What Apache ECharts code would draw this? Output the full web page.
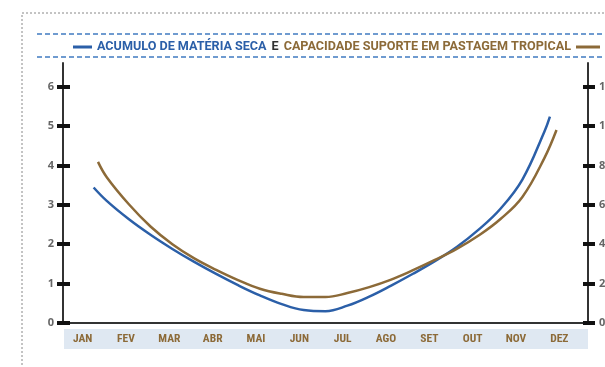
<!DOCTYPE html>
<html>
<head>
<meta charset="utf-8">
<script src="https://cdn.jsdelivr.net/npm/echarts@6/dist/echarts.min.js"></script>
<style>
  html, body { margin: 0; padding: 0; background: #fff; overflow: hidden; }
  #chart { width: 605px; height: 367px; }
</style>
</head>
<body>
<div id="chart"></div>
<script>
// Months shown under the plot
const months = ['JAN', 'FEV', 'MAR', 'ABR', 'MAI', 'JUN', 'JUL', 'AGO', 'SET', 'OUT', 'NOV', 'DEZ'];

// Left scale ticks and right scale tick labels
const leftTicks = [0, 1, 2, 3, 4, 5, 6];
const rightTickLabels = ['0', '2', '4', '6', '8', '12', '14'];

// Curves: [month position (0 = start of JAN, 12 = end of DEZ), value]
const materiaSeca = [
  [0.70, 3.44], [1.0, 3.10], [1.5, 2.64], [2.0, 2.24], [2.5, 1.88], [3.0, 1.55],
  [3.5, 1.245], [4.0, 0.96], [4.5, 0.70], [5.0, 0.48], [5.5, 0.33], [6.0, 0.30],
  [6.5, 0.44], [7.0, 0.67], [7.5, 0.95], [8.0, 1.25], [8.5, 1.57], [9.0, 1.93],
  [9.5, 2.37], [10.0, 2.90], [10.5, 3.64], [11.0, 4.85], [11.13, 5.24]
];
const capacidadeSuporte = [
  [0.80, 4.09], [1.0, 3.70], [1.5, 3.02], [2.0, 2.45], [2.5, 2.00], [3.0, 1.64],
  [3.5, 1.35], [4.0, 1.09], [4.5, 0.87], [5.0, 0.74], [5.5, 0.66], [6.0, 0.66],
  [6.5, 0.76], [7.0, 0.91], [7.5, 1.10], [8.0, 1.34], [8.5, 1.60], [9.0, 1.88],
  [9.5, 2.22], [10.0, 2.64], [10.5, 3.20], [11.0, 4.18], [11.28, 4.90]
];

const BLUE = '#2b5fa8';
const BROWN = '#8c6a38';
const AXIS = '#333';
const condensed = '"Liberation Sans Narrow", "Roboto Condensed", "Liberation Sans", sans-serif';
const captionFont = 'Roboto, "Liberation Sans", sans-serif';

const chart = echarts.init(document.getElementById('chart'), null, { renderer: 'canvas' });

const yScale = { type: 'value', min: 0, max: 6.6, gridIndex: 0 };
const tickStyle = { show: true, customValues: leftTicks, lineStyle: { color: '#111', width: 4 } };
const captionText = { fontSize: 12.6, fontWeight: 'bold', fontFamily: captionFont };

chart.setOption({
  backgroundColor: '#fff',
  animation: false,
  title: {
    left: 68,
    top: 33,
    text: '{bl|}{a|ACUMULO DE MATÉRIA SECA} {e|E} {b|CAPACIDADE SUPORTE EM PASTAGEM TROPICAL}{br|}',
    textStyle: {
      rich: {
        bl: { width: 19, height: 3, backgroundColor: BLUE },
        br: { width: 24, height: 3, backgroundColor: BROWN },
        a: Object.assign({ color: BLUE, padding: [0, 0, 0, 5] }, captionText),
        e: Object.assign({ color: '#333' }, captionText),
        b: Object.assign({ color: BROWN, padding: [0, 5, 0, 0] }, captionText)
      }
    }
  },
  graphic: [
    // dotted frame around the figure
    { type: 'rect', shape: { x: 22, y: 13, width: 600, height: 380 },
      style: { fill: 'none', stroke: '#888', lineWidth: 1, lineDash: [2, 2] } },
    // dashed rules above and below the caption
    { type: 'line', shape: { x1: 37, y1: 34, x2: 605, y2: 34 },
      style: { stroke: '#6f9bd0', lineWidth: 2, lineDash: [5, 3] } },
    { type: 'line', shape: { x1: 37, y1: 57, x2: 605, y2: 57 },
      style: { stroke: '#6f9bd0', lineWidth: 2, lineDash: [5, 3] } },
    // shaded band behind the month names
    { type: 'rect', z: -1, shape: { x: 64, y: 329, width: 524, height: 20 },
      style: { fill: '#dfe8f2' } }
  ],
  grid: [
    { left: 63, right: 17, top: 63, bottom: 44, outerBoundsMode: 'none' },
    { left: 61, right: 24, top: 63, bottom: 44, outerBoundsMode: 'none' }
  ],
  xAxis: [
    {
      type: 'value', gridIndex: 0, min: 0, max: 12,
      axisLine: { show: true, lineStyle: { color: AXIS, width: 2 } },
      axisTick: { show: false }, axisLabel: { show: false }, splitLine: { show: false }
    },
    {
      type: 'category', gridIndex: 1, data: months, boundaryGap: true,
      axisLine: { show: false }, axisTick: { show: false }, splitLine: { show: false },
      axisLabel: { color: BROWN, fontSize: 11.5, fontWeight: 'bold', fontFamily: condensed, margin: 10, interval: 0 }
    }
  ],
  yAxis: [
    Object.assign({}, yScale, {
      position: 'left',
      axisLine: { show: true, lineStyle: { color: AXIS, width: 2 } },
      axisTick: Object.assign({}, tickStyle, { inside: false, length: 6 }),
      axisLabel: { customValues: leftTicks, color: '#666', fontSize: 11, fontWeight: 'bold', fontFamily: '"Open Sans", sans-serif', margin: 9 },
      splitLine: { show: false }
    }),
    Object.assign({}, yScale, {
      position: 'left',
      axisLine: { show: false },
      axisTick: Object.assign({}, tickStyle, { inside: true, length: 7 }),
      axisLabel: { show: false }, splitLine: { show: false }
    }),
    Object.assign({}, yScale, {
      position: 'right',
      axisLine: { show: true, lineStyle: { color: AXIS, width: 2 } },
      axisTick: Object.assign({}, tickStyle, { inside: false, length: 7 }),
      axisLabel: {
        customValues: leftTicks, color: '#666', fontSize: 11, fontWeight: 'bold',
        fontFamily: '"Open Sans", sans-serif', margin: 11,
        formatter: v => rightTickLabels[Math.round(v)]
      },
      splitLine: { show: false }
    }),
    Object.assign({}, yScale, {
      position: 'right',
      axisLine: { show: false },
      axisTick: Object.assign({}, tickStyle, { inside: true, length: 5 }),
      axisLabel: { show: false }, splitLine: { show: false }
    }),
    { type: 'value', gridIndex: 1, show: false }
  ],
  series: [
    {
      name: 'ACUMULO DE MATÉRIA SECA', type: 'line', xAxisIndex: 0, yAxisIndex: 0,
      data: materiaSeca, smooth: 0.4, showSymbol: false,
      lineStyle: { color: BLUE, width: 2.5 }
    },
    {
      name: 'CAPACIDADE SUPORTE EM PASTAGEM TROPICAL', type: 'line', xAxisIndex: 0, yAxisIndex: 2,
      data: capacidadeSuporte, smooth: 0.4, showSymbol: false,
      lineStyle: { color: BROWN, width: 2.5 }
    }
  ]
});
</script>
</body>
</html>
